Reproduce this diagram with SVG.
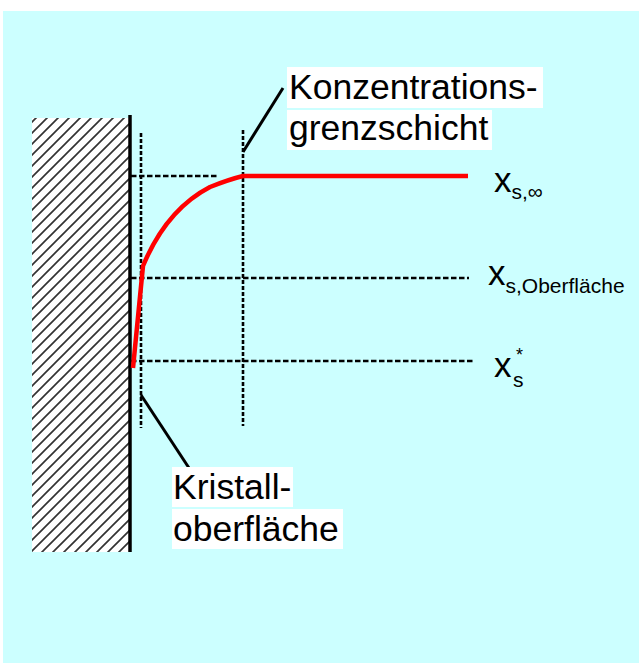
<svg xmlns="http://www.w3.org/2000/svg" width="639" height="663" viewBox="0 0 639 663">
<defs>
<style>
.dash{stroke:#000;stroke-width:2.6;stroke-dasharray:4 2;fill:none}
.hdash{stroke-dasharray:5.5 2.5}
.lbl{font-family:"Liberation Sans",Arial,sans-serif;fill:#000}
.box{fill:#fff}
.lead{stroke:#000;stroke-width:3;fill:none}
</style>
<pattern id="hatch" patternUnits="userSpaceOnUse" width="11" height="11">
<path d="M-2,2 L2,-2 M0,11 L11,0 M9,13 L13,9" stroke="#333" stroke-width="1.7"/>
</pattern>
</defs>
<rect x="0" y="0" width="639" height="663" fill="#fff"/>
<rect x="3" y="11" width="636" height="652" fill="#ccffff"/>
<g id="crystal">
<rect x="32" y="118" width="98" height="434" fill="#fff"/>
<rect x="32" y="118" width="98" height="434" fill="url(#hatch)"/>
<line x1="130" y1="115" x2="130" y2="552" stroke="#000" stroke-width="3.5"/>
</g>
<g id="connectors">
<line class="dash" x1="141" y1="133" x2="141" y2="428"/>
<line class="dash" x1="243" y1="130" x2="243" y2="426"/>
<line class="dash hdash" x1="131" y1="176" x2="218" y2="176"/>
<line class="dash hdash" x1="131" y1="278" x2="469" y2="278"/>
<line class="dash hdash" x1="131" y1="361" x2="473" y2="361"/>
<path class="lead" d="M243,152 L283,88"/>
<path class="lead" d="M141,395 L189,468"/>
</g>
<g id="curve">
<path d="M133,368 L143,266 C160,225 185,200 210,187 C225,181 235,178 243,176 L468,176" fill="none" stroke="#ff0000" stroke-width="4.5" stroke-linejoin="round"/>
</g>
<g id="label-grenzschicht">
<rect class="box" x="287" y="67" width="256" height="41"/>
<rect class="box" x="287" y="110" width="205" height="40"/>
<text class="lbl" x="289" y="99" font-size="35.5">Konzentrations-</text>
<text class="lbl" x="289" y="140" font-size="35.5">grenzschicht</text>
</g>
<g id="label-kristall">
<rect class="box" x="172" y="467" width="121" height="40"/>
<rect class="box" x="172" y="509" width="171" height="40"/>
<text class="lbl" x="173" y="499" font-size="35.5">Kristall-</text>
<text class="lbl" x="173" y="541" font-size="35.5">oberfläche</text>
</g>
<g id="label-xinf">
<text class="lbl" x="494" y="192" font-size="35">x<tspan font-size="21" dy="7">s,∞</tspan></text>
</g>
<g id="label-xober">
<text class="lbl" x="488" y="285" font-size="35">x<tspan font-size="21" dy="8">s,Oberfläche</tspan></text>
</g>
<g id="label-xstar">
<text class="lbl" x="494" y="377" font-size="35">x</text>
<text class="lbl" x="513" y="387" font-size="21">s</text>
<text class="lbl" x="516" y="361" font-size="18">*</text>
</g>
</svg>
